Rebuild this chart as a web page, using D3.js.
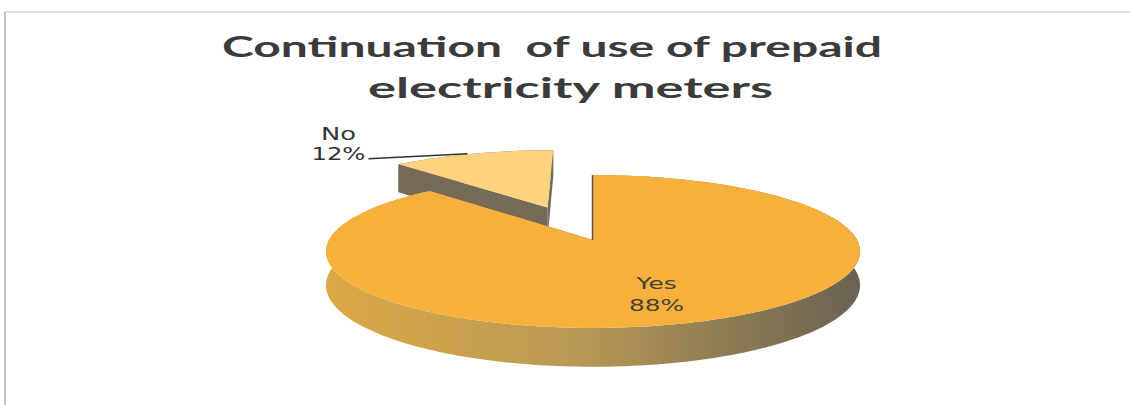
<!DOCTYPE html>
<html>
<head>
<meta charset="utf-8">
<script src="https://cdn.jsdelivr.net/npm/d3@7"></script>
<style>
  body { margin: 0; background: #fff; }
</style>
</head>
<body>
<div id="chart"></div>
<script>
// chart data
var categories = ["Yes", "No"];
var values = [88, 12];
var percentLabels = ["88%", "12%"];
var titleLines = ["Continuation  of use of prepaid", "electricity meters"];

var svgWidth = 1130;
var svgHeight = 405;

var svg = d3.select("#chart")
  .append("svg")
  .attr("width", svgWidth)
  .attr("height", svgHeight);

// scanned frame (top + left edges only show)
svg.append("line")
  .attr("x1", 5).attr("y1", 12).attr("x2", svgWidth).attr("y2", 12)
  .attr("stroke", "#c4c4c4").attr("stroke-width", 1);
svg.append("line")
  .attr("x1", 5).attr("y1", 12).attr("x2", 5).attr("y2", svgHeight)
  .attr("stroke", "#9a9a9a").attr("stroke-width", 1.2);

// title
var titleX = [222, 368];
var titleY = [57, 98];
var titleW = [660, 405];
svg.append("g").selectAll("text")
  .data(titleLines)
  .enter()
  .append("text")
  .attr("x", (d, i) => titleX[i])
  .attr("y", (d, i) => titleY[i])
  .attr("textLength", (d, i) => titleW[i])
  .attr("lengthAdjust", "spacingAndGlyphs")
  .style("white-space", "pre")
  .style("font-family", "Lato, 'Open Sans', sans-serif")
  .style("font-weight", "bold")
  .style("font-size", "28px")
  .style("fill", "#3b3b3b")
  .text(d => d);

// 3d pie projection: angle 0 at 12 o'clock, clockwise
var cx = 593, cy = 240;
var rx = 264, ry = 74.75;
var persp = 0.15;   // back of pie smaller than front
var depth = 33;     // thickness of the pie

function project(theta, r, ex, ez, down) {
  var X = ex + r * Math.sin(theta);
  var Z = ez + r * Math.cos(theta);
  var s = 1 / (1 + persp * Z);
  return [cx + X * rx * s, cy - Z * ry * s + (down ? depth * s : 0)];
}

var pie = d3.pie().sort(null).value(d => d);
var arcs = pie(values);

var line = d3.line();

function arcPoints(a0, a1, ex, ez, down) {
  var n = Math.max(4, Math.ceil(Math.abs(a1 - a0) / 0.02));
  return d3.range(n + 1).map(i => project(a0 + (a1 - a0) * i / n, 1, ex, ez, down));
}

// explode offsets: "No" slice pulled out by half a radius
var explode = [0, 0.5];
var offsets = arcs.map(function(a, i) {
  var mid = (a.startAngle + a.endAngle) / 2;
  return [explode[i] * Math.sin(mid), explode[i] * Math.cos(mid)];
});

var topColors = ["#f7b03c", "#fdd37e"];
var cutColor = "#766a58";

var defs = svg.append("defs");
var grad = defs.append("linearGradient")
  .attr("id", "sideGrad")
  .attr("gradientUnits", "userSpaceOnUse")
  .attr("x1", cx - rx).attr("x2", cx + rx)
  .attr("y1", 0).attr("y2", 0);
grad.append("stop").attr("offset", "0%").attr("stop-color", "#dca845");
grad.append("stop").attr("offset", "45%").attr("stop-color", "#bb9a55");
grad.append("stop").attr("offset", "100%").attr("stop-color", "#6a6352");

var pieGroup = svg.append("g");

// draw the slice at the back first (No), then the front slice (Yes)
[1, 0].forEach(function(i) {
  var a = arcs[i];
  var ex = offsets[i][0], ez = offsets[i][1];
  var apexTop = project(0, 0, ex, ez, false);
  var apexBot = project(0, 0, ex, ez, true);

  // outer side band
  var topArc = arcPoints(a.startAngle, a.endAngle, ex, ez, false);
  var botArc = arcPoints(a.startAngle, a.endAngle, ex, ez, true).reverse();
  pieGroup.append("path")
    .attr("d", line(topArc.concat(botArc)) + "Z")
    .attr("fill", i === 0 ? "url(#sideGrad)" : cutColor);

  // cut faces
  [a.startAngle, a.endAngle].forEach(function(t) {
    var rimTop = project(t, 1, ex, ez, false);
    var rimBot = project(t, 1, ex, ez, true);
    pieGroup.append("path")
      .attr("d", line([apexTop, rimTop, rimBot, apexBot]) + "Z")
      .attr("fill", cutColor);
  });

  // top face
  pieGroup.append("path")
    .attr("d", line([apexTop].concat(topArc)) + "Z")
    .attr("fill", topColors[i]);
});

// thin dark edge of the Yes cut at 12 o'clock
var yesRim = project(arcs[0].startAngle, 1, 0, 0, false);
pieGroup.append("line")
  .attr("x1", cx - 0.5).attr("y1", yesRim[1])
  .attr("x2", cx - 0.5).attr("y2", cy)
  .attr("stroke", "#5d5548").attr("stroke-width", 1.5);

// Yes label inside the slice
var yesMid = (arcs[0].startAngle + arcs[0].endAngle) / 2;
var yesPos = project(yesMid, 0.6, 0, 0, false);
var labelFont = "'DejaVu Sans', Verdana, sans-serif";
svg.append("text")
  .attr("x", yesPos[0]).attr("y", yesPos[1] + 3)
  .attr("text-anchor", "middle")
  .attr("textLength", 40).attr("lengthAdjust", "spacingAndGlyphs")
  .style("font-family", labelFont).style("font-size", "16px")
  .style("fill", "#454038")
  .text(categories[0]);
svg.append("text")
  .attr("x", yesPos[0]).attr("y", yesPos[1] + 25)
  .attr("text-anchor", "middle")
  .attr("textLength", 55).attr("lengthAdjust", "spacingAndGlyphs")
  .style("font-family", labelFont).style("font-size", "16px")
  .style("fill", "#454038")
  .text(percentLabels[0]);

// No label outside with leader line to the rim
var noMid = (arcs[1].startAngle + arcs[1].endAngle) / 2;
var noRim = project(noMid, 1, offsets[1][0], offsets[1][1], false);
var leadStart = [noRim[0] - 104, noRim[1] + 5];
svg.append("path")
  .attr("d", line([leadStart, [noRim[0] - 5, noRim[1]]]))
  .attr("stroke", "#333").attr("stroke-width", 1.5).attr("fill", "none");
svg.append("text")
  .attr("x", leadStart[0] - 30).attr("y", leadStart[1] - 19)
  .attr("text-anchor", "middle")
  .attr("textLength", 35).attr("lengthAdjust", "spacingAndGlyphs")
  .style("font-family", labelFont).style("font-size", "17px")
  .style("fill", "#333")
  .text(categories[1]);
svg.append("text")
  .attr("x", leadStart[0] - 30).attr("y", leadStart[1] + 1)
  .attr("text-anchor", "middle")
  .attr("textLength", 54).attr("lengthAdjust", "spacingAndGlyphs")
  .style("font-family", labelFont).style("font-size", "17px")
  .style("fill", "#333")
  .text(percentLabels[1]);
</script>
</body>
</html>
